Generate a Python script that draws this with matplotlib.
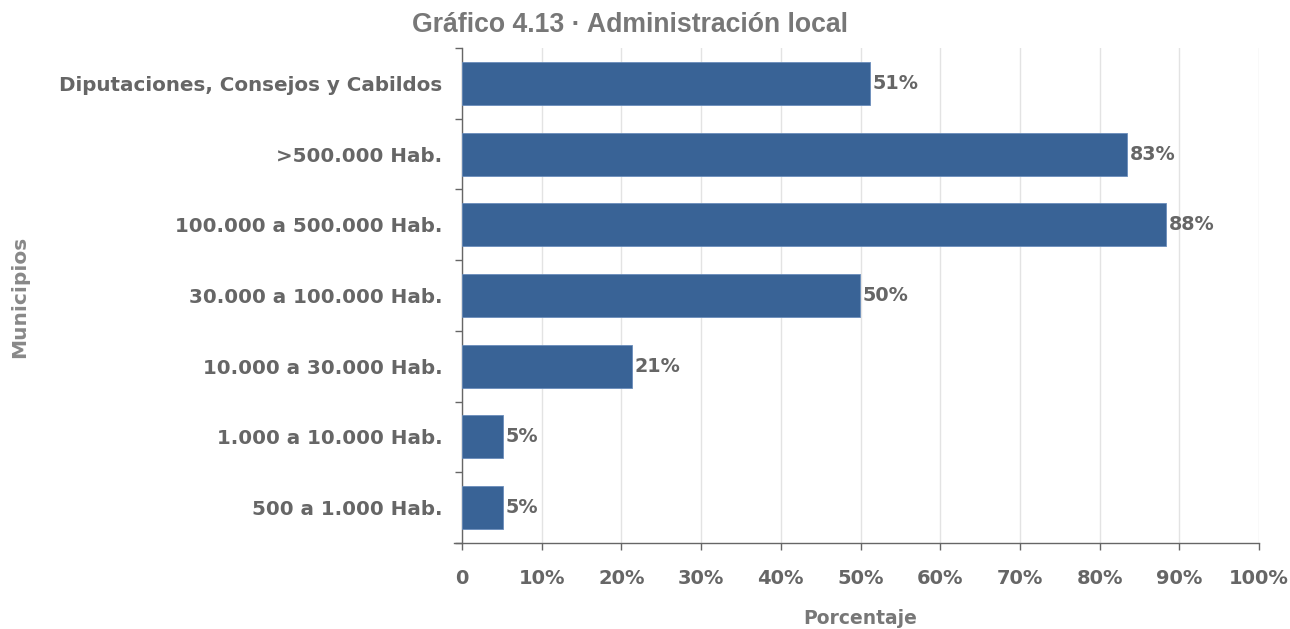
import matplotlib
matplotlib.use("Agg")
import matplotlib.pyplot as plt
from matplotlib.ticker import FixedLocator, FuncFormatter
from matplotlib.font_manager import FontProperties

categories = [
    "Diputaciones, Consejos y Cabildos",
    ">500.000 Hab.",
    "100.000 a 500.000 Hab.",
    "30.000 a 100.000 Hab.",
    "10.000 a 30.000 Hab.",
    "1.000 a 10.000 Hab.",
    "500 a 1.000 Hab.",
]
values = [51.2, 83.4, 88.3, 49.9, 21.3, 5.1, 5.1]
x_ticks = [0, 10, 20, 30, 40, 50, 60, 70, 80, 90, 100]

title = "Gráfico 4.13 · Administración local"
xlabel = "Porcentaje"
ylabel = "Municipios"

W, H = 1290, 629
fig = plt.figure(figsize=(W / 100, H / 100), dpi=100)
left, right, top, bottom = 462, 1259, 48, 543
ax = fig.add_axes([left / W, 1 - bottom / H, (right - left) / W, (bottom - top) / H])

txt = "#666666"
base = {"family": "DejaVu Sans", "weight": "bold"}

n = len(categories)
ypos = list(range(n))
ax.barh(ypos, values, height=0.61, color="#396396", edgecolor="#6a8dbb",
        linewidth=0.6, zorder=3)
ax.set_ylim(n - 0.5, -0.5)
ax.set_xlim(0, 100)

for y, v in zip(ypos, values):
    ax.annotate(f"{round(v)}%", xy=(v, y), xytext=(2, 0), textcoords="offset points",
                va="center", ha="left", color=txt, zorder=4, size=13.8, **base)

ax.set_yticks(ypos)
ax.set_yticklabels(categories, color=txt, size=14.3, **base)
ax.yaxis.set_minor_locator(FixedLocator([i - 0.5 for i in range(n + 1)]))
ax.tick_params(axis="y", which="major", length=0, pad=14)
ax.tick_params(axis="y", which="minor", length=5, width=1, color="#666666")

ax.set_xticks(x_ticks)
ax.xaxis.set_major_formatter(FuncFormatter(lambda v, p: "0" if v == 0 else f"{int(v)}%"))
for lab in ax.get_xticklabels():
    lab.set_fontproperties(FontProperties(size=14, **base))
    lab.set_color(txt)
ax.tick_params(axis="x", which="major", length=5, width=1, color="#666666", pad=14)

ax.grid(axis="x", color="#e3e3e3", linewidth=1, zorder=0)
for s in ["top", "right"]:
    ax.spines[s].set_visible(False)
for s in ["left", "bottom"]:
    ax.spines[s].set_color("#666666")
    ax.spines[s].set_linewidth(1)
ax.spines["bottom"].set_bounds(-1, 100)

fig.text(630.5 / W, 1 - 25.5 / H, title, ha="center", va="center",
         family="Liberation Sans", weight="bold", size=19.2, color="#777777")
fig.text(860 / W, 1 - 618 / H, xlabel, ha="center", va="center",
         color="#777777", size=13.5, **base)
fig.text(20 / W, 1 - 297 / H, ylabel, ha="center", va="center", rotation=90,
         color="#888888", size=14.5, **base)

fig.savefig("out.png", dpi=100)
